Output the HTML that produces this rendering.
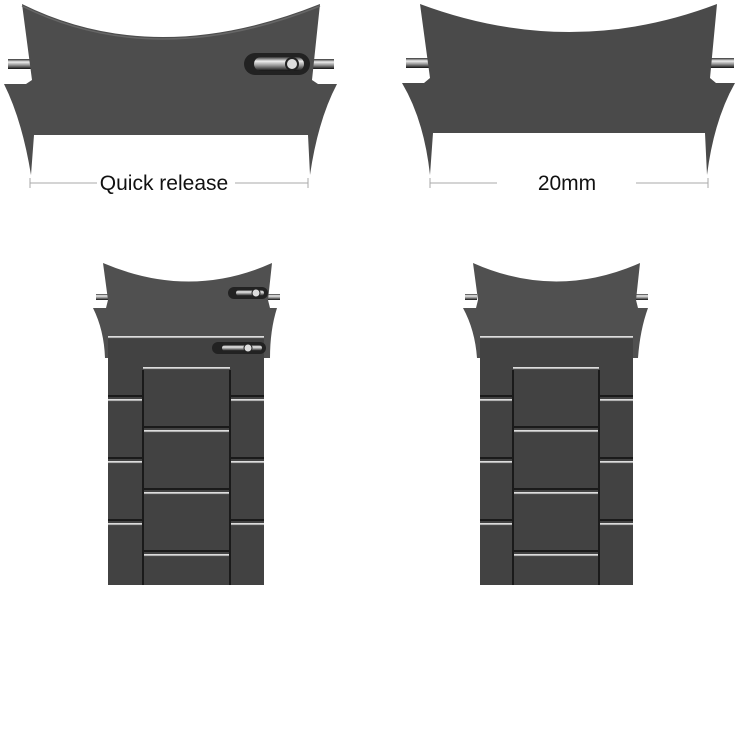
<!DOCTYPE html>
<html><head><style>
html,body{margin:0;padding:0;background:#fff;width:750px;height:750px;overflow:hidden}
svg{display:block}
text{font-family:"Liberation Sans",sans-serif}
</style></head><body>
<svg width="750" height="750" viewBox="0 0 750 750">
<defs>
<linearGradient id="pin" x1="0" y1="0" x2="0" y2="1">
<stop offset="0" stop-color="#333"/><stop offset="0.3" stop-color="#eee"/><stop offset="0.6" stop-color="#999"/><stop offset="1" stop-color="#111"/>
</linearGradient>
<linearGradient id="hl" x1="0" y1="0" x2="0" y2="1">
<stop offset="0" stop-color="#eee"/><stop offset="0.5" stop-color="#bbb"/><stop offset="1" stop-color="#111"/>
</linearGradient>
</defs>

<!-- Top left piece -->
<rect x="8" y="59" width="24" height="10" fill="url(#pin)"/>
<rect x="310" y="59" width="24" height="10" fill="url(#pin)"/>
<path d="M22,4 Q155,70 320,4 L312,80 L318,84 L337,84 Q318,120 310,175 L308,135 L34,135 L31,175 Q22,120 4,84 L26,84 L32,80 Z" fill="#4d4d4d"/>
<path d="M22,6 Q155,72 320,6" stroke="#666" stroke-width="1.5" fill="none"/>
<rect x="244" y="53" width="66" height="22" rx="11" fill="#222"/>
<rect x="254" y="57" width="50" height="14" rx="7" fill="url(#pin)"/>
<circle cx="292" cy="64" r="6" fill="#ddd" stroke="#222" stroke-width="2"/>
<line x1="30" y1="183" x2="97" y2="183" stroke="#aaa"/>
<line x1="235" y1="183" x2="308" y2="183" stroke="#aaa"/>
<line x1="30" y1="178" x2="30" y2="188" stroke="#aaa"/>
<line x1="308" y1="178" x2="308" y2="188" stroke="#aaa"/>
<text x="164" y="190" font-size="21" text-anchor="middle" fill="#111">Quick release</text>

<!-- Top right piece -->
<rect x="406" y="58" width="26" height="10" fill="url(#pin)"/>
<rect x="708" y="58" width="26" height="10" fill="url(#pin)"/>
<path d="M420,4 Q570,60 717,4 L710,78 L716,83 L735,83 Q714,120 707,175 L705,133 L433,133 L430,175 Q424,120 402,83 L424,83 L430,78 Z" fill="#4a4a4a"/>
<line x1="430" y1="183" x2="497" y2="183" stroke="#aaa"/>
<line x1="636" y1="183" x2="708" y2="183" stroke="#aaa"/>
<line x1="430" y1="178" x2="430" y2="188" stroke="#aaa"/>
<line x1="708" y1="178" x2="708" y2="188" stroke="#aaa"/>
<text x="567" y="190" font-size="21" text-anchor="middle" fill="#111">20mm</text>

<!-- Bottom left bracelet -->
<rect x="96" y="294" width="14" height="6" fill="url(#pin)"/>
<rect x="266" y="294" width="14" height="6" fill="url(#pin)"/>
<path d="M103,263 Q190,300 272,263 L268,300 L270,308 L277,308 Q270,330 270,358 L105,358 Q104,330 93,308 L106,308 L108,300 Z" fill="#505050"/>
<rect x="108" y="337" width="156" height="248" fill="#424242"/>
<rect x="108" y="336" width="156" height="3" fill="url(#hl)"/>
<rect x="228" y="287" width="40" height="12" rx="6" fill="#222"/>
<rect x="236" y="290" width="28" height="6" rx="3" fill="url(#pin)"/>
<circle cx="256" cy="293" r="4" fill="#ddd" stroke="#222"/>
<rect x="212" y="342" width="54" height="12" rx="6" fill="#222"/>
<rect x="222" y="345" width="40" height="6" rx="3" fill="url(#pin)"/>
<circle cx="248" cy="348" r="4" fill="#ddd" stroke="#222"/>
<g fill="url(#hl)">
<rect x="143" y="367" width="87" height="3"/><rect x="143" y="430" width="87" height="3"/>
<rect x="143" y="492" width="87" height="3"/><rect x="143" y="554" width="87" height="3"/>
<rect x="108" y="399" width="35" height="3"/><rect x="230" y="399" width="34" height="3"/>
<rect x="108" y="461" width="35" height="3"/><rect x="230" y="461" width="34" height="3"/>
<rect x="108" y="523" width="35" height="3"/><rect x="230" y="523" width="34" height="3"/>
</g>
<g stroke="#1a1a1a" stroke-width="2" fill="none">
<line x1="143" y1="370" x2="143" y2="585"/><line x1="230" y1="370" x2="230" y2="585"/>
<line x1="143" y1="427" x2="230" y2="427"/><line x1="143" y1="489" x2="230" y2="489"/><line x1="143" y1="551" x2="230" y2="551"/>
<line x1="108" y1="396" x2="143" y2="396"/><line x1="230" y1="396" x2="264" y2="396"/>
<line x1="108" y1="458" x2="143" y2="458"/><line x1="230" y1="458" x2="264" y2="458"/>
<line x1="108" y1="520" x2="143" y2="520"/><line x1="230" y1="520" x2="264" y2="520"/>
</g>

<!-- Bottom right bracelet -->
<rect x="465" y="294" width="12" height="6" fill="url(#pin)"/>
<rect x="636" y="294" width="12" height="6" fill="url(#pin)"/>
<path d="M473,263 Q556,300 640,263 L636,300 L638,308 L648,308 Q640,330 638,358 L477,358 Q475,330 463,308 L476,308 L478,300 Z" fill="#505050"/>
<rect x="480" y="337" width="153" height="248" fill="#424242"/>
<rect x="480" y="336" width="153" height="3" fill="url(#hl)"/>
<g fill="url(#hl)">
<rect x="513" y="367" width="86" height="3"/><rect x="513" y="430" width="86" height="3"/>
<rect x="513" y="492" width="86" height="3"/><rect x="513" y="554" width="86" height="3"/>
<rect x="480" y="399" width="33" height="3"/><rect x="599" y="399" width="34" height="3"/>
<rect x="480" y="461" width="33" height="3"/><rect x="599" y="461" width="34" height="3"/>
<rect x="480" y="523" width="33" height="3"/><rect x="599" y="523" width="34" height="3"/>
</g>
<g stroke="#1a1a1a" stroke-width="2" fill="none">
<line x1="513" y1="370" x2="513" y2="585"/><line x1="599" y1="370" x2="599" y2="585"/>
<line x1="513" y1="427" x2="599" y2="427"/><line x1="513" y1="489" x2="599" y2="489"/><line x1="513" y1="551" x2="599" y2="551"/>
<line x1="480" y1="396" x2="513" y2="396"/><line x1="599" y1="396" x2="633" y2="396"/>
<line x1="480" y1="458" x2="513" y2="458"/><line x1="599" y1="458" x2="633" y2="458"/>
<line x1="480" y1="520" x2="513" y2="520"/><line x1="599" y1="520" x2="633" y2="520"/>
</g>
</svg>
</body></html>
